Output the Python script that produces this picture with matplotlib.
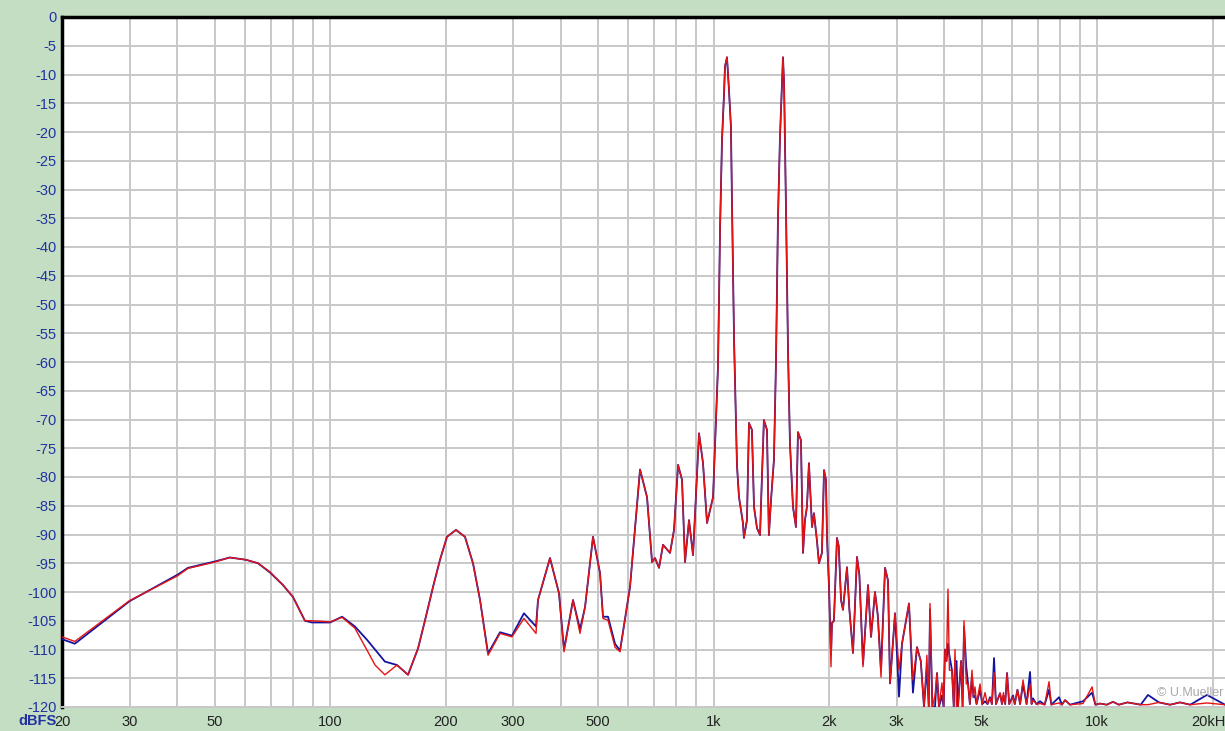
import matplotlib.pyplot as plt
from matplotlib.ticker import FixedLocator, NullFormatter

# frequency points (Hz) shared by both channels
freq = [
    20, 21.6, 30, 40, 42.6, 50, 54.8, 60.4, 64.9, 69.7,
    75.4, 80.1, 86.0, 89.7, 100, 107.5, 116.1, 124.8, 131, 139,
    149.5, 159.7, 169.6, 176.9, 185.6, 193.5, 201.8, 213, 224.8, 235.9,
    246.1, 258.2, 277.5, 298.1, 320.3, 344.4, 348.5, 374.5, 395.3, 407.4,
    430.1, 448.5, 462.3, 484.9, 505.7, 514.9, 530.6, 553.4, 570.3, 605.6,
    643.1, 670.7, 691.2, 703.7, 720.8, 738.3, 770, 788.7, 808, 827.5,
    842.5, 863, 884, 916.4, 938.6, 961.5, 997, 1027, 1040, 1052,
    1065, 1071, 1084, 1097, 1110, 1117, 1131, 1151, 1165, 1193,
    1200, 1222, 1237, 1259, 1275, 1298, 1322, 1329, 1353, 1378,
    1394, 1412, 1437, 1455, 1472, 1490, 1508, 1517, 1527, 1545,
    1564, 1582, 1611, 1640, 1660, 1690, 1711, 1731, 1752, 1773,
    1806, 1827, 1860, 1883, 1917, 1941, 1964, 1976, 2000, 2024,
    2036, 2060, 2098, 2120, 2150, 2175, 2228, 2260, 2310, 2366,
    2400, 2453, 2528, 2574, 2636, 2680, 2733, 2800, 2850, 2885,
    2973, 3045, 3100, 3233, 3311, 3392, 3470, 3538, 3600, 3640,
    3668, 3720, 3779, 3825, 3870, 3941, 3980, 4013, 4050, 4086,
    4120, 4185, 4230, 4261, 4300, 4339, 4420, 4460, 4499, 4560,
    4608, 4660, 4720, 4760, 4805, 4850, 4952, 5020, 5103, 5180,
    5259, 5320, 5387, 5450, 5585, 5650, 5700, 5760, 5825, 5900,
    6039, 6100, 6200, 6300, 6411, 6550, 6686, 6750, 6808, 6950,
    7100, 7300, 7496, 7600, 7960, 8100, 8253, 8500, 9193, 9706,
    9900, 10179, 10600, 11005, 11400, 12000, 13000, 13575, 14500, 15500,
    16457, 17500, 19345, 21558,
]

# right channel (red), dBFS
red_db = [
    -107.8, -108.6, -101.5, -97.2, -95.9, -94.8, -94.0, -94.4, -95.0, -96.5,
    -98.8, -100.9, -105.0, -105.0, -105.2, -104.4, -106.3, -110.1, -112.7, -114.4,
    -112.7, -114.4, -109.8, -104.9, -99.1, -94.4, -90.4, -89.2, -90.4, -95.0,
    -101.4, -111.0, -107.2, -107.8, -104.6, -107.2, -101.4, -94.1, -100.2, -110.4,
    -101.4, -107.2, -102.6, -90.4, -96.7, -104.6, -104.9, -109.6, -110.4, -99.1,
    -78.7, -83.5, -94.8, -94.1, -95.8, -91.8, -93.2, -89.2, -77.9, -80.5,
    -94.8, -87.5, -93.6, -72.4, -77.6, -88.0, -83.5, -60.8, -36.5, -21.4,
    -13.3, -8.6, -7.0, -12.7, -19.1, -32.4, -56.2, -78.0, -83.5, -88.0,
    -90.6, -87.5, -70.6, -71.8, -85.2, -88.9, -90.1, -85.2, -70.1, -71.8,
    -90.1, -84.0, -77.0, -59.7, -35.3, -20.9, -11.5, -7.0, -11.5, -33.6,
    -58.4, -74.1, -85.2, -88.7, -72.2, -73.6, -93.2, -87.5, -85.2, -77.6,
    -88.7, -86.3, -91.0, -95.0, -93.2, -78.8, -80.5, -90.4, -99.1, -113.0,
    -105.4, -105.0, -90.6, -92.0, -101.4, -103.1, -95.7, -103.0, -110.6, -93.9,
    -97.0, -113.0, -98.8, -107.8, -100.0, -104.0, -114.8, -95.8, -98.0, -115.9,
    -103.7, -113.6, -109.0, -102.0, -115.3, -109.6, -112.0, -120.0, -111.0, -120.0,
    -102.0, -120.0, -118.0, -114.1, -120.0, -115.8, -120.0, -110.0, -112.0, -99.5,
    -113.6, -113.6, -120.0, -110.0, -120.0, -120.0, -112.0, -120.0, -105.0, -116.0,
    -115.9, -119.5, -113.6, -118.3, -116.5, -119.5, -116.0, -119.5, -117.5, -119.5,
    -118.5, -119.5, -114.0, -119.5, -117.6, -119.5, -117.5, -119.5, -114.1, -119.5,
    -118.3, -119.5, -117.0, -119.5, -115.3, -119.5, -116.0, -119.5, -118.8, -119.5,
    -119.4, -119.6, -115.6, -119.6, -119.3, -119.6, -118.8, -119.6, -119.4, -116.5,
    -119.6, -119.4, -119.6, -119.1, -119.6, -119.2, -119.6, -119.6, -119.2, -119.6,
    -119.2, -119.6, -119.3, -119.6,
]

# left channel (blue), dBFS
blue_db = [
    -108.2, -109.0, -101.6, -97.0, -95.8, -94.7, -94.0, -94.4, -95.0, -96.6,
    -98.8, -100.9, -105.0, -105.3, -105.3, -104.3, -106.0, -108.3, -110.0, -112.1,
    -112.7, -114.4, -109.8, -104.9, -99.1, -94.4, -90.4, -89.2, -90.4, -95.0,
    -101.4, -110.7, -107.0, -107.6, -103.7, -106.0, -101.4, -94.1, -100.2, -110.0,
    -101.4, -106.5, -102.6, -90.4, -96.7, -104.3, -104.3, -109.0, -110.2, -99.1,
    -78.7, -83.5, -94.8, -94.1, -95.8, -91.8, -93.2, -89.2, -77.9, -80.5,
    -94.8, -87.5, -93.6, -72.4, -77.6, -88.0, -83.5, -60.8, -36.5, -21.4,
    -13.3, -8.6, -7.0, -12.7, -19.1, -32.4, -56.2, -78.0, -83.5, -88.0,
    -90.6, -87.5, -70.6, -71.8, -85.2, -88.9, -90.1, -85.2, -70.1, -71.8,
    -90.1, -84.0, -77.0, -59.7, -35.3, -20.9, -11.5, -7.0, -11.5, -33.6,
    -58.4, -74.1, -85.2, -88.7, -72.2, -73.6, -93.2, -87.5, -85.2, -77.6,
    -88.7, -86.3, -91.0, -95.0, -93.2, -78.8, -80.5, -90.4, -99.1, -111.0,
    -105.4, -105.0, -90.6, -92.0, -101.4, -103.1, -95.7, -103.0, -110.6, -93.9,
    -97.0, -112.5, -98.8, -107.8, -100.0, -104.0, -113.5, -95.8, -98.0, -115.9,
    -103.7, -118.2, -109.0, -102.0, -117.5, -109.6, -112.0, -120.0, -113.0, -120.0,
    -103.0, -120.0, -120.0, -114.1, -120.0, -118.0, -120.0, -110.0, -112.0, -109.0,
    -111.0, -113.6, -120.0, -113.0, -112.0, -120.0, -112.0, -120.0, -106.0, -113.0,
    -115.9, -119.5, -114.5, -118.3, -118.0, -119.5, -117.0, -119.5, -119.0, -119.5,
    -118.3, -119.5, -111.5, -119.5, -117.6, -119.5, -118.0, -119.5, -114.1, -119.5,
    -118.0, -119.5, -117.0, -119.5, -116.0, -119.5, -113.9, -119.5, -118.5, -119.5,
    -119.0, -119.6, -117.0, -119.6, -118.3, -119.6, -118.8, -119.6, -119.0, -117.5,
    -119.6, -119.4, -119.6, -119.1, -119.6, -119.2, -119.6, -117.9, -119.2, -119.6,
    -119.2, -119.6, -117.9, -119.6,
]

x_ticks = [20, 30, 50, 100, 200, 300, 500, 1000, 2000, 3000, 5000, 10000, 20000]
x_labels = ['20', '30', '50', '100', '200', '300', '500', '1k', '2k', '3k', '5k', '10k', '20kHz']
grid_freqs = [20, 30, 40, 50, 60, 70, 80, 90,
              100, 200, 300, 400, 500, 600, 700, 800, 900,
              1000, 2000, 3000, 4000, 5000, 6000, 7000, 8000, 9000,
              10000, 20000]
y_ticks = list(range(0, -125, -5))

bg = '#c3dec3'
fig = plt.figure(figsize=(12.25, 7.31), dpi=100, facecolor=bg)
ax = fig.add_axes([62 / 1225, 24 / 731, 1 - 62 / 1225, 690 / 731])
ax.set_facecolor('white')

ax.plot(freq, blue_db, color='#1414a0', lw=1.3, zorder=3)
ax.plot(freq, red_db, color='#e41414', lw=1.0, zorder=4)

ax.set_xscale('log')
ax.set_xlim(20, 21558)
ax.set_ylim(-120, 0)

ax.xaxis.set_major_locator(FixedLocator(x_ticks))
ax.set_xticklabels(x_labels)
ax.xaxis.set_minor_locator(FixedLocator(grid_freqs))
ax.xaxis.set_minor_formatter(NullFormatter())
ax.set_yticks(y_ticks)
ax.set_yticklabels([str(v) for v in y_ticks])

ax.grid(True, which='both', axis='x', color='#c8c8c8', lw=1.4, zorder=1)
ax.grid(True, which='major', axis='y', color='#c8c8c8', lw=1.4, zorder=1)
ax.tick_params(which='both', length=0)
ax.tick_params(axis='x', colors='#222222', labelsize=10.5, pad=6)
ax.tick_params(axis='y', colors='#2233a0', labelsize=10.5, pad=4)
for lab in ax.get_yticklabels() + ax.get_xticklabels():
    lab.set_fontfamily('Liberation Sans')

ax.spines['top'].set_color('black')
ax.spines['top'].set_linewidth(2.5)
ax.spines['left'].set_color('black')
ax.spines['left'].set_linewidth(2.5)
ax.spines['bottom'].set_color('#c8c8c8')
ax.spines['bottom'].set_linewidth(1.4)
ax.spines['right'].set_visible(False)

fig.text(18 / 1225, 1 - 721 / 731, 'dBFS', color='#2233a0', fontsize=10.5,
         fontweight='bold', family='Liberation Sans', ha='left', va='center')
fig.text(1190 / 1225, 1 - 693 / 731, '\u00a9 U.Mueller', color='#a8a8a8',
         fontsize=9, family='Liberation Sans', ha='center', va='center')

fig.savefig('out.png', dpi=100, facecolor=bg)
